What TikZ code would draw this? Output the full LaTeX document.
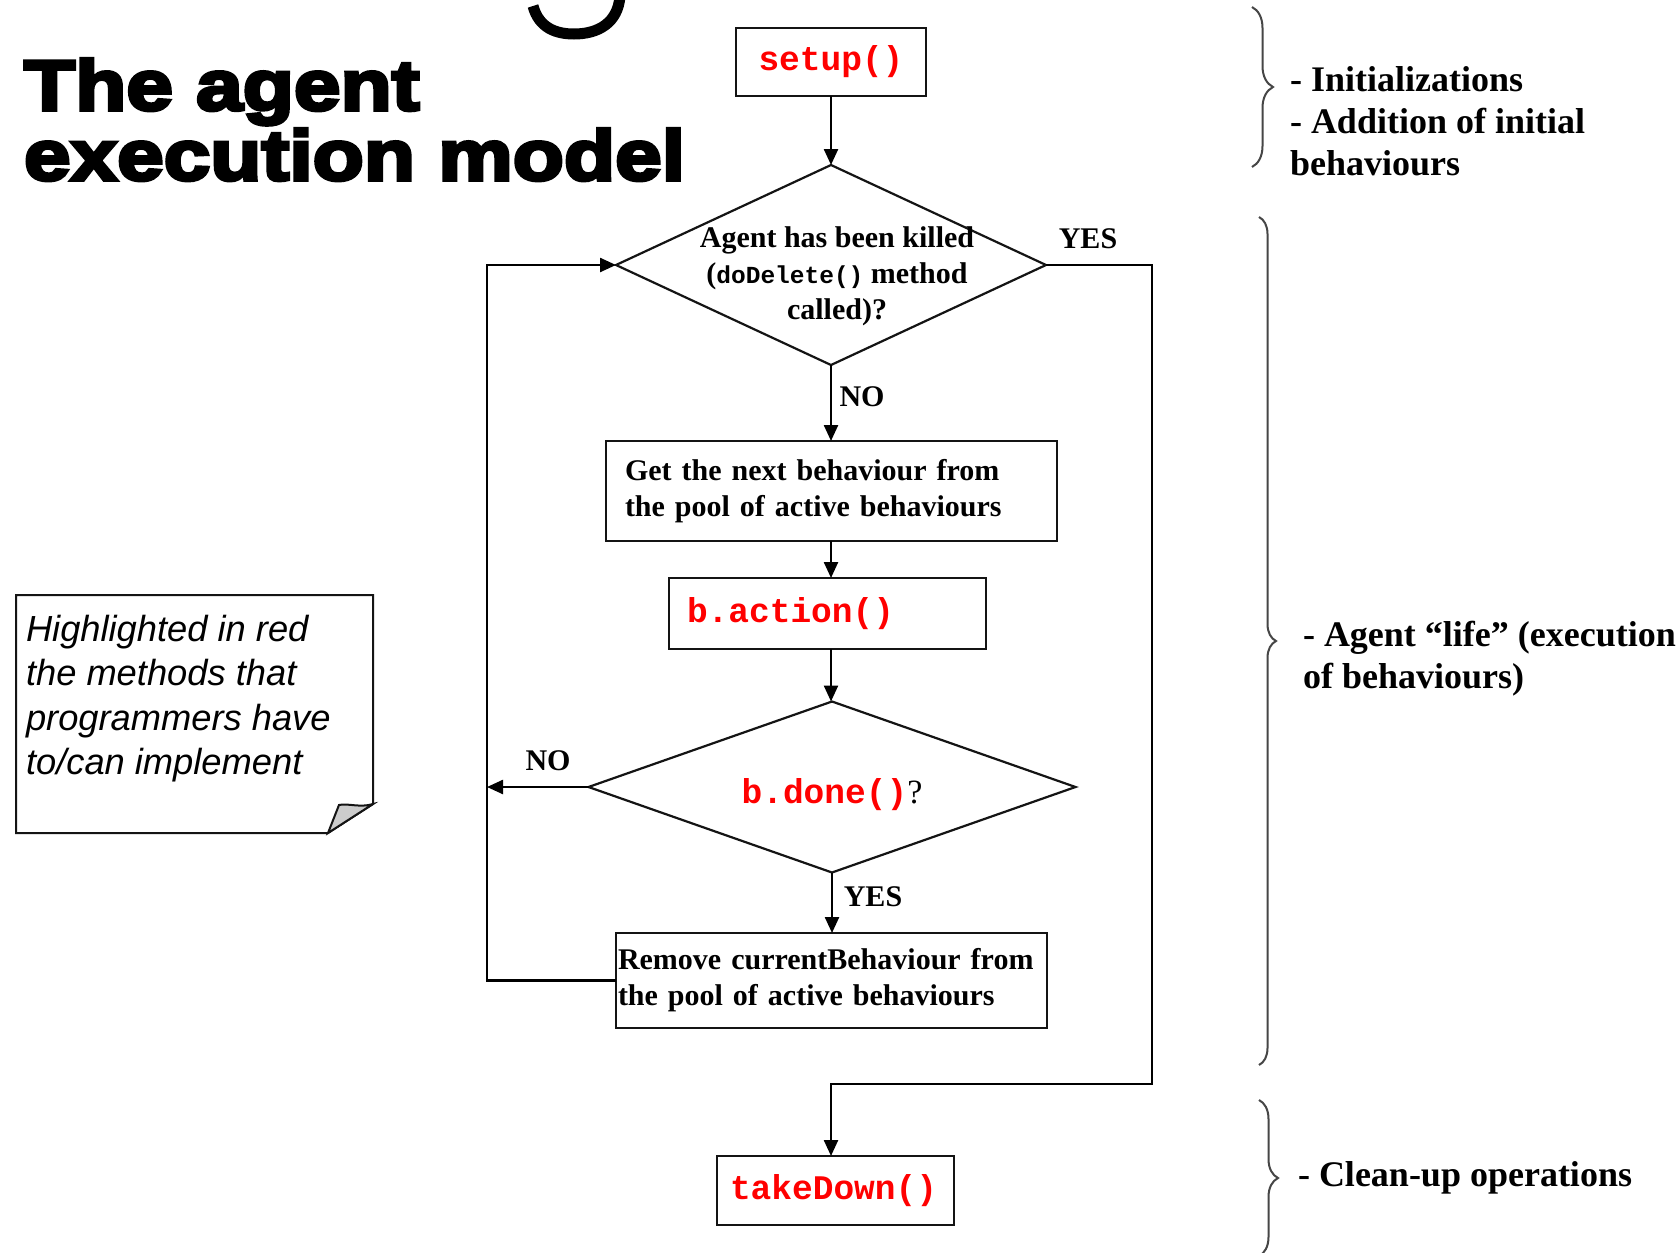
\documentclass[tikz,border=0pt]{standalone}
\usepackage{fontspec}
\setmainfont{Liberation Serif}
\newfontfamily\codefont{Liberation Mono}
\newfontfamily\notefont{Liberation Sans}
\newfontfamily\titlefont[FakeStretch=1.18,BoldFeatures={FakeBold=5}]{Liberation Sans}
\usetikzlibrary{arrows.meta,shapes.geometric,decorations.pathreplacing}
\definecolor{codered}{RGB}{255,0,0}
\definecolor{linegray}{RGB}{20,20,20}
\definecolor{bracegray}{RGB}{70,70,70}
\begin{document}
\begin{tikzpicture}[x=1pt,y=-1pt,
  every node/.style={inner sep=0pt, outer sep=0pt},
  flow/.style={draw=black, line width=2.4pt, -{Triangle[length=16pt,width=14pt]}},
  plain/.style={draw=linegray, line width=2pt},
  box/.style={draw=linegray, line width=2.2pt, rectangle},
  decision/.style={draw=linegray, line width=2.2pt, diamond},
  code/.style={font=\codefont\bfseries\fontsize{34.5}{40}\selectfont, text=codered},
  lbl/.style={font=\bfseries\fontsize{30}{36}\selectfont},
  bracetxt/.style={font=\bfseries\fontsize{36}{42}\selectfont, align=left, anchor=west},
  bracestyle/.style={draw=bracegray, line width=2pt, decorate, decoration={brace, amplitude=#1}},
]
\useasboundingbox (0,0) rectangle (1679,1253);
\fill[white] (0,0) rectangle (1679,1253);

% title
\node[anchor=base west, font=\titlefont\bfseries\fontsize{71}{70}\selectfont] (title1) at (24,110) {The agent};
\node[anchor=base west, font=\titlefont\bfseries\fontsize{71}{70}\selectfont] (title2) at (24,180) {execution model};
% fragment of a cut-off letter
\draw[line width=11pt] (533,6) .. controls (539,28) and (556,34) .. (574,34) .. controls (598,34) and (618,23) .. (620,-4);

% flow chart nodes
\node[box, code, minimum width=190pt, minimum height=68pt] (setup) at (831,62) {setup()};
\node[decision, minimum width=430pt, minimum height=200pt] (d1) at (831,265) {};
\node[lbl, align=center] (d1txt) at (837,276) {Agent has been killed\\({\codefont\bfseries\fontsize{24.5}{36}\selectfont doDelete()} method\\called)?};
\node[lbl] (yes1) at (1088,239) {YES};
\node[lbl] (no1) at (862,397) {NO};
\node[box, lbl, text width=413pt, inner xsep=19pt, minimum height=100pt, align=left] (get) at (831.5,491) {Get the next behaviour from\\the pool of active behaviours};
\node[box, code, text width=281pt, inner xsep=18pt, minimum height=71pt, align=left] (action) at (827.5,613.5) {\raisebox{4pt}{b.action()}};
\node[decision, minimum width=487pt, minimum height=171pt] (d2) at (832,787) {};
\node (d2txt) at (832,795) {{\codefont\bfseries\fontsize{34.5}{40}\selectfont\color{codered}b.done()}{\fontsize{34}{40}\selectfont ?}};
\node[lbl] (no2) at (548,761) {NO};
\node[lbl] (yes2) at (873,897) {YES};
\node[box, lbl, text width=427pt, inner xsep=2pt, minimum height=95pt, align=left] (remove) at (831.5,980.5) {Remove currentBehaviour from\\the pool of active behaviours};
\node[box, code, text width=211pt, inner xsep=13pt, minimum height=69pt, align=left] (takedown) at (835.5,1190.5) {\raisebox{4pt}{takeDown()}};

\coordinate (loopx) at (487,0);
\coordinate (yesx) at (1152,1084);

% connectors
\draw[flow] (setup.south) -- (d1.north);
\draw[flow] (d1.south) -- (d1.south |- get.north);
\draw[flow] (d1.south |- get.south) -- (d1.south |- action.north);
\draw[flow] (d1.south |- action.south) -- (d1.south |- d2.north);
\draw[flow] (d2.south) -- (d2.south |- remove.north);
\draw[flow] (d2.west) -- (d2.west -| loopx);
\draw[flow] (remove.west) -| (loopx |- d1.west) -- (d1.west);
\draw[flow] (d1.east) -| (yesx) -- (yesx -| d1.south) -- (d1.south |- takedown.north);

% note
\draw[plain] (16,595) -- (373,595) -- (373,804) -- (328,833) -- (16,833) -- cycle;
\filldraw[fill=gray!40, draw=linegray, line width=2pt] (373,804) .. controls (360,808) and (348,803) .. (339,805) -- (328,833) -- cycle;
\node[anchor=north west, font=\notefont\itshape\fontsize{36.3}{44.5}\selectfont, align=left] (note) at (26,615) {Highlighted in red\\the methods that\\programmers have\\to/can implement};

% braces
\draw[bracestyle=21pt] (1252,7) -- (1252,167);
\draw[bracestyle=17pt] (1259,217) -- (1259,1065);
\draw[bracestyle=19pt] (1259,1100) -- (1259,1256);
\node[bracetxt] (init) at (1290,121) {- Initializations\\- Addition of initial\\behaviours};
\node[bracetxt] (life) at (1303,659) {- Agent “life” (execution\\of behaviours)};
\node[bracetxt] (clean) at (1298,1178) {- Clean-up operations};
\end{tikzpicture}
\end{document}
